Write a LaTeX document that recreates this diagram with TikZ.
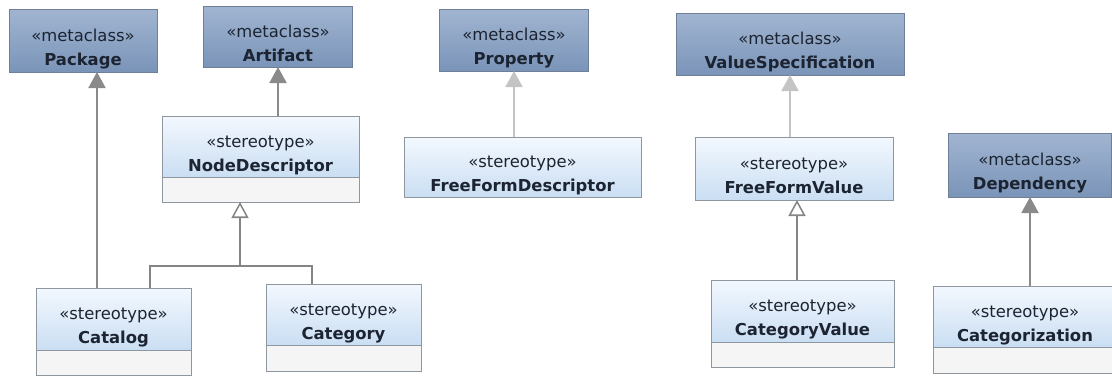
\documentclass[tikz,border=0pt]{standalone}
\usepackage{fontspec}
\setmainfont{DejaVu Sans}
\usetikzlibrary{positioning,arrows.meta,shadows}

\definecolor{metatop}{HTML}{A1B5D1}
\definecolor{metabot}{HTML}{7A94B8}
\definecolor{metaline}{HTML}{6F7F97}
\definecolor{stereotop}{HTML}{F3F8FE}
\definecolor{stereobot}{HTML}{CADEF3}
\definecolor{stereoline}{HTML}{8E969F}
\definecolor{compfill}{HTML}{F5F5F5}
\definecolor{extline}{HTML}{8A8A8A}
\definecolor{extlight}{HTML}{C4C4C4}
\definecolor{genline}{HTML}{858585}
\definecolor{labeltext}{HTML}{1C2331}

% one pixel of the layout
\newcommand{\px}{0.3mm}
% two-line class label
\newcommand{\classlabel}[2]{\rule{0pt}{25.5pt}«#1»\\\textbf{#2}\rule[-3.5pt]{0pt}{3.5pt}}

\tikzset{
  classbox/.style={outer sep=0pt, inner ysep=0pt, align=center, text=labeltext,
    font=\fontsize{14}{20.5}\selectfont,
    drop shadow={shadow xshift=0.8pt, shadow yshift=-0.8pt, opacity=0.25, fill=black!60}},
  metaclass/.style={classbox, draw=metaline, line width=0.7pt,
    top color=metatop, bottom color=metabot},
  stereotype/.style={classbox, draw=stereoline, line width=0.7pt,
    top color=stereotop, bottom color=stereobot},
  compartment/.style={outer sep=0pt, draw=stereoline, line width=0.7pt, fill=compfill,
    drop shadow={shadow xshift=0.8pt, shadow yshift=-0.8pt, opacity=0.25, fill=black!60}},
  extension/.style={draw=extline, line width=1.7pt,
    -{Triangle[length=4.8mm, width=5.1mm]}},
  lightext/.style={extension, draw=extlight},
  genlink/.style={draw=genline, line width=1.3pt},
  generalization/.style={genlink, -{Triangle[open, fill=white, length=4.8mm, width=5.1mm]}}
}

\begin{document}
\begin{tikzpicture}[x=\px, y=-\px]
  \useasboundingbox (0,0) rectangle (1112,375);

  % metaclasses
  \node[metaclass, minimum width=148*\px, minimum height=63*\px] (package) at (83,40.5)
    {\classlabel{metaclass}{Package}};
  \node[metaclass, minimum width=149*\px, minimum height=61*\px] (artifact) at (278,36.5)
    {\classlabel{metaclass}{Artifact}};
  \node[metaclass, minimum width=149*\px, minimum height=62*\px] (property) at (514,40)
    {\classlabel{metaclass}{Property}};
  \node[metaclass, minimum width=228*\px, minimum height=62*\px] (valuespec) at (790,44)
    {\classlabel{metaclass}{ValueSpecification}};
  \node[metaclass, minimum width=163*\px, minimum height=64*\px] (dependency) at (1030,165)
    {\classlabel{metaclass}{Dependency}};

  % stereotypes
  \node[stereotype, minimum width=197*\px, minimum height=61*\px] (nodedesc) at (260.5,146.5)
    {\classlabel{stereotype}{NodeDescriptor}};
  \node[compartment, minimum width=197*\px, minimum height=25*\px, below=0pt of nodedesc] (nodedescc) {};

  \node[stereotype, minimum width=237*\px, minimum height=60*\px] (ffdesc) at (522.5,167)
    {\classlabel{stereotype}{FreeFormDescriptor}};
  \node[stereotype, minimum width=198*\px, minimum height=63*\px] (ffvalue) at (794,168.5)
    {\classlabel{stereotype}{FreeFormValue}};

  \node[stereotype, minimum width=155*\px, minimum height=62*\px] (catalog) at (113.5,319)
    {\classlabel{stereotype}{Catalog}};
  \node[compartment, minimum width=155*\px, minimum height=25*\px, below=0pt of catalog] (catalogc) {};

  \node[stereotype, minimum width=155*\px, minimum height=61*\px] (category) at (343.5,314.5)
    {\classlabel{stereotype}{Category}};
  \node[compartment, minimum width=155*\px, minimum height=26*\px, below=0pt of category] (categoryc) {};

  \node[stereotype, minimum width=183*\px, minimum height=62*\px] (catvalue) at (802.5,311)
    {\classlabel{stereotype}{CategoryValue}};
  \node[compartment, minimum width=183*\px, minimum height=25*\px, below=0pt of catvalue] (catvaluec) {};

  \node[stereotype, minimum width=184*\px, minimum height=61*\px] (categorization) at (1025,316.5)
    {\classlabel{stereotype}{Categorization}};
  \node[compartment, minimum width=184*\px, minimum height=26*\px, below=0pt of categorization] (categorizationc) {};

  % extensions
  \draw[extension] ([xshift=-16.5*\px]catalog.north) -- ([xshift=14*\px]package.south);
  \draw[extension] ([xshift=17.5*\px]nodedesc.north) -- (artifact.south);
  \draw[lightext] ([xshift=-8.5*\px]ffdesc.north) -- (property.south);
  \draw[lightext] ([xshift=-4*\px]ffvalue.north) -- (valuespec.south);
  \draw[extension] ([xshift=5*\px]categorization.north) -- (dependency.south);

  % generalizations
  \coordinate (ndjoin) at (240,266);
  \draw[generalization] (ndjoin) -- (ndjoin |- nodedescc.south);
  \draw[genlink] ([xshift=36.5*\px]catalog.north) |- (ndjoin) -| ([xshift=-31.5*\px]category.north);
  \draw[generalization] ([xshift=-5.5*\px]catvalue.north) -- ([xshift=3*\px]ffvalue.south);
\end{tikzpicture}
\end{document}
